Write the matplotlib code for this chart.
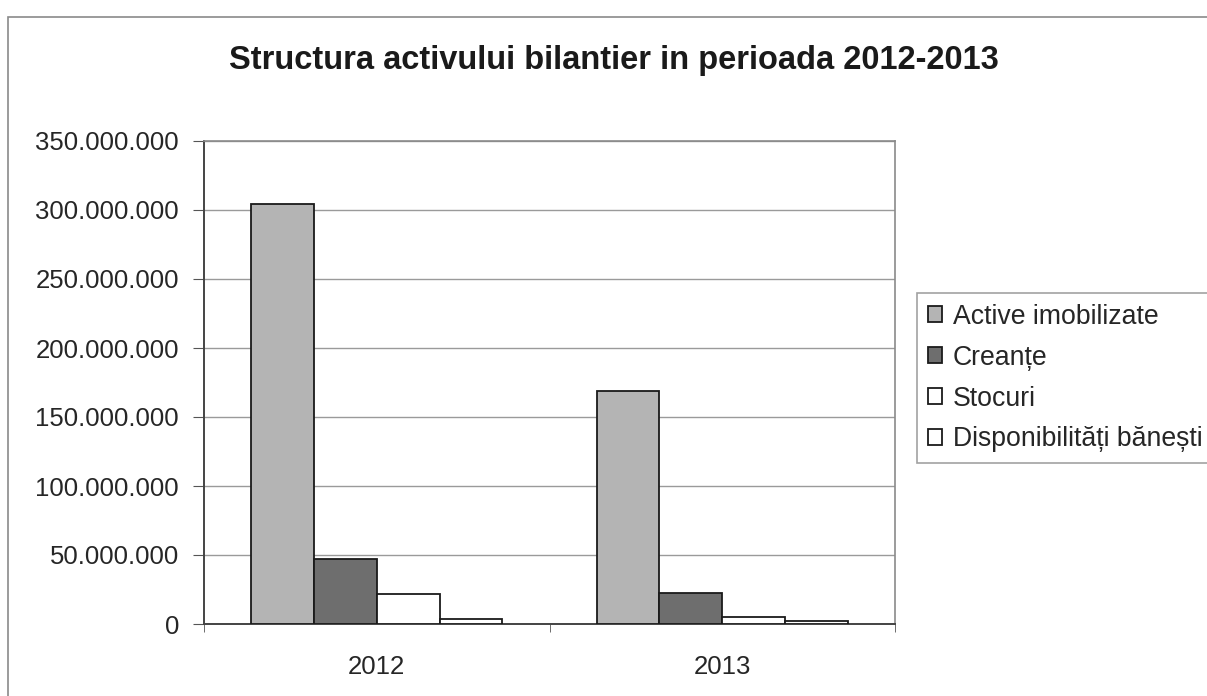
import numpy as np
import matplotlib.pyplot as plt
from matplotlib.ticker import FuncFormatter, FixedLocator
from matplotlib.patches import Rectangle

# date
years = ["2012", "2013"]
series = ["Active imobilizate", "Creanțe", "Stocuri", "Disponibilități bănești"]
active_imobilizate = [304_000_000, 169_000_000]
creante = [47_000_000, 22_500_000]
stocuri = [22_000_000, 4_800_000]
disponibilitati = [3_800_000, 2_300_000]
values = [active_imobilizate, creante, stocuri, disponibilitati]
colors = ["#b4b4b4", "#6e6e6e", "#ffffff", "#ffffff"]

plt.rcParams['font.family'] = ['Liberation Sans', 'DejaVu Sans']
text_color = "#262626"

fig = plt.figure(figsize=(12.07, 6.96), dpi=100)
ax = fig.add_axes([204 / 1207, 1 - 624 / 696, (895 - 204) / 1207, (624 - 141) / 696])

# cadrul scanat al diagramei
fig.patches.append(Rectangle((8 / 1207, -0.1), 1.2, 1 - 17 / 696 + 0.1,
                             transform=fig.transFigure, fill=False,
                             edgecolor="#8a8a8a", linewidth=1.2))

x = np.arange(len(years))
width = 1 / 5.5
for i, (name, vals, col) in enumerate(zip(series, values, colors)):
    offset = (i - 1.5) * width
    ax.bar(x + offset, vals, width, color=col, edgecolor="#1a1a1a",
           linewidth=1.3, label=name, zorder=3)

ax.set_xlim(-0.5, 1.5)
ax.set_ylim(0, 350_000_000)
ax.set_yticks(np.arange(0, 350_000_001, 50_000_000))
ax.yaxis.set_major_formatter(FuncFormatter(lambda v, p: f"{int(v):,}".replace(",", ".")))
ax.grid(axis="y", color="#9a9a9a", linewidth=1.0, zorder=0)

ax.set_xticks(x)
ax.set_xticklabels(years)
ax.xaxis.set_minor_locator(FixedLocator([-0.5, 0.5, 1.5]))
ax.tick_params(axis="x", which="major", length=0, pad=22, labelsize=18.5, colors=text_color)
ax.tick_params(axis="x", which="minor", length=6, color="#555555")
ax.tick_params(axis="y", length=8, color="#555555", labelsize=18.5, labelcolor=text_color, pad=10)

for s in ["left", "bottom"]:
    ax.spines[s].set_color("#444444")
    ax.spines[s].set_linewidth(1.4)
for s in ["top", "right"]:
    ax.spines[s].set_color("#8a8a8a")
    ax.spines[s].set_linewidth(1.2)

fig.text(614 / 1207, 1 - 60 / 696, "Structura activului bilantier in perioada 2012-2013",
         ha="center", va="center", fontsize=23.5, fontweight="bold", color="#1a1a1a")

leg = ax.legend(loc="upper left", bbox_to_anchor=(917 / 1207, 1 - 293 / 696),
                bbox_transform=fig.transFigure, fontsize=19.2, frameon=True,
                fancybox=False, edgecolor="#8a8a8a", handlelength=0.55,
                handleheight=0.55, handletextpad=0.4, labelspacing=0.56,
                borderpad=0.4, borderaxespad=0)
leg.get_frame().set_linewidth(1.2)
for t in leg.get_texts():
    t.set_color(text_color)

fig.savefig("out.png", dpi=100, facecolor="white")
